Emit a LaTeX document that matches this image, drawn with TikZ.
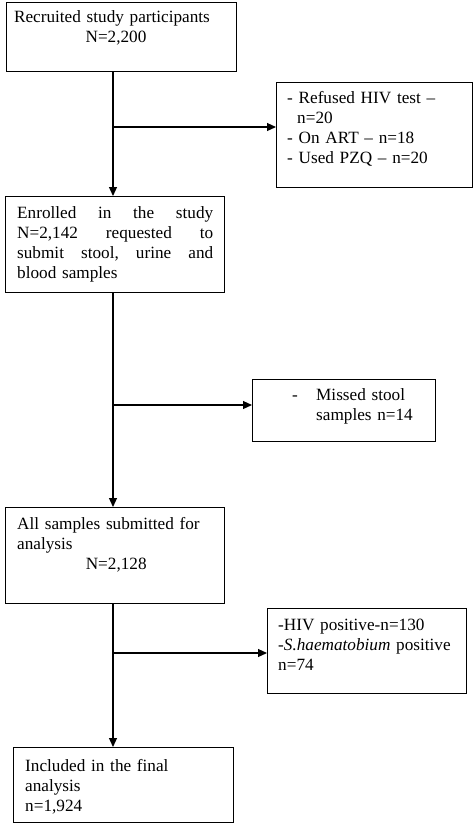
\documentclass[tikz,border=0pt]{standalone}
\usepackage{fontspec}
\setmainfont{Liberation Serif}
\usetikzlibrary{arrows.meta}
\begin{document}
\begin{tikzpicture}[x=1pt,y=-1pt,
  box/.style={draw, line width=1pt, inner sep=0pt, anchor=north west},
  txt/.style={anchor=base west, inner sep=0pt, font=\fontsize{17.2}{20}\selectfont, align=left, text width=#1},
  txt/.default=200pt,
  conn/.style={line width=1.2pt},
  arr/.style={line width=1.2pt, -{Triangle[length=9pt,width=8pt]}}]
\useasboundingbox (0,0) rectangle (474,823);

% boxes
\node[box, minimum width=230pt, minimum height=69pt] (b1) at (6,2) {};
\node[box, minimum width=196pt, minimum height=105pt] (r1) at (276,82) {};
\node[box, minimum width=219pt, minimum height=96pt] (b2) at (5,196) {};
\node[box, minimum width=183pt, minimum height=62pt] (r2) at (252,379) {};
\node[box, minimum width=219pt, minimum height=96pt] (b3) at (5,507) {};
\node[box, minimum width=199pt, minimum height=85pt] (r3) at (267,608) {};
\node[box, minimum width=220pt, minimum height=75pt] (b4) at (13,747) {};

% texts
\node[txt=230pt, align=center, anchor=base] (t1) at (112,22) {Recruited study participants\\\hspace*{8pt}N=2,200};
\node[txt=190pt] (tr1) at (287,103) {- Refused HIV test –\\\hspace*{10pt}n=20\\- On ART – n=18\\- Used PZQ – n=20};
\node[txt=196pt] (t2) at (17,218) {%
\makebox[196pt][l]{Enrolled\hfill in\hfill the\hfill study}\\
\makebox[196pt][l]{N=2,142\hfill requested\hfill to}\\
\makebox[196pt][l]{submit\hfill stool,\hfill urine\hfill and}\\
blood samples};
\node[txt=20pt] (tr2a) at (292,400) {-};
\node[txt=120pt] (tr2) at (316,400) {Missed stool\\samples n=14};
\node[txt=198pt] (t3) at (17,529) {All samples submitted for\\analysis\\\makebox[198pt]{N=2,128}};
\node[txt=190pt] (tr3) at (278,630) {-HIV positive-n=130\\-\textit{S.haematobium} positive\\n=74};
\node[txt=200pt] (t4) at (25,771) {Included in the final\\analysis\\n=1,924};

% connectors
\coordinate (j1) at (113,127);
\coordinate (j2) at (113,405);
\coordinate (j3) at (113,653);
\draw[arr] (b1.south -| j1) -- (b2.north -| j1);
\draw[arr] (j1) -- (r1.west |- j1);
\draw[arr] (b2.south -| j2) -- (b3.north -| j2);
\draw[arr] (j2) -- (r2.west |- j2);
\draw[arr] (b3.south -| j3) -- (b4.north -| j3);
\draw[arr] (j3) -- (r3.west |- j3);
\end{tikzpicture}
\end{document}
